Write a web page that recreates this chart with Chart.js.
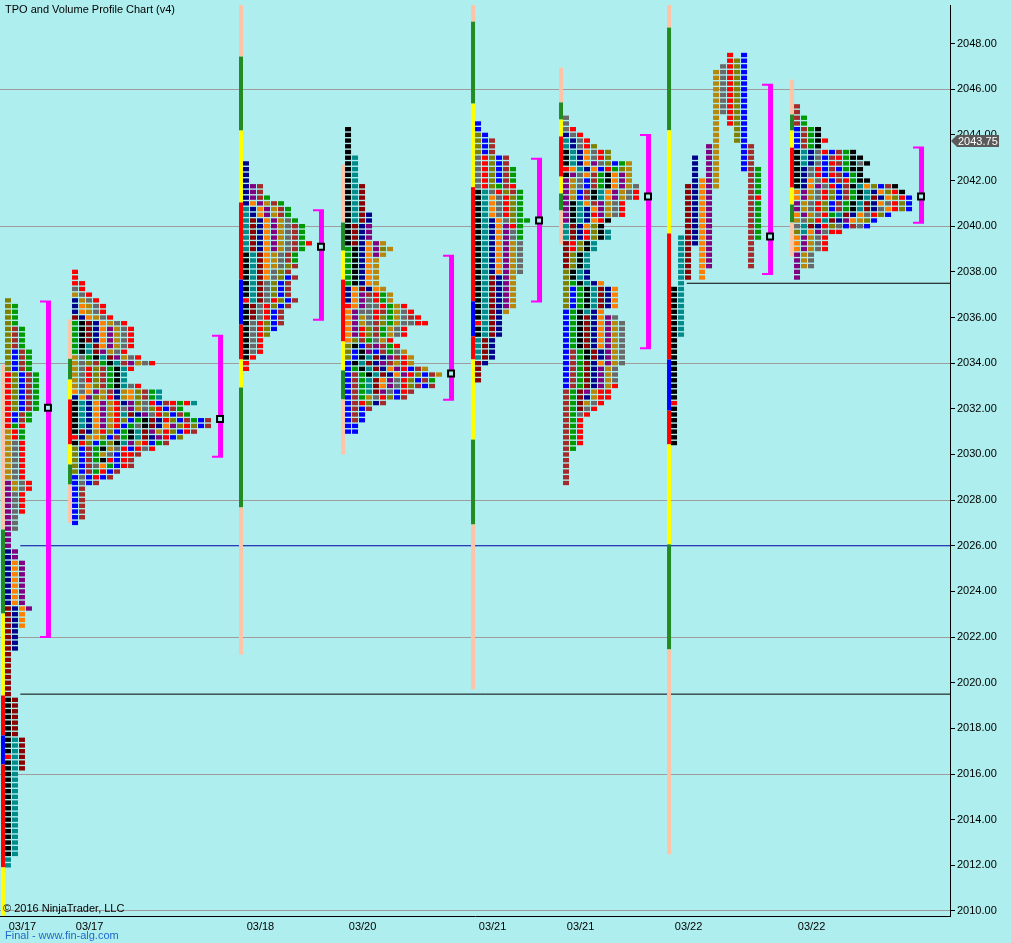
<!DOCTYPE html>
<html>
<head>
<meta charset="utf-8">
<title>TPO and Volume Profile Chart (v4)</title>
<script src="https://cdn.jsdelivr.net/npm/chart.js@4.4.1/dist/chart.umd.min.js"></script>
<style>
  html, body { margin: 0; padding: 0; background: #afeeee; }
  #wrap { position: relative; width: 1011px; height: 943px; overflow: hidden; }
  #chart { display: block; }
  .note { position: absolute; font: 11px 'Liberation Sans', Arial, sans-serif; white-space: nowrap; color: #000; }
</style>
</head>
<body>
<div id="wrap">
  <canvas id="chart" width="1011" height="943"></canvas>
  <div class="note" style="left:5px;top:3px">TPO and Volume Profile Chart (v4)</div>
  <div class="note" style="left:3px;top:902px">© 2016 NinjaTrader, LLC</div>
  <div class="note" style="left:5px;top:929px;color:#1f68c8">Final - www.fin-alg.com</div>
</div>
<script>
// price axis and time axis (x is counted in TPO columns)
const Y_MIN = 2009.78;
const Y_MAX = 2049.69;
const X_MAX = 135.71;
const TICK = 0.25;

const yTickValues = [2010, 2012, 2014, 2016, 2018, 2020, 2022, 2024, 2026, 2028, 2030,
  2032, 2034, 2036, 2038, 2040, 2042, 2044, 2046, 2048];
const gridLinePrices = [2010, 2016, 2022, 2028, 2034, 2040, 2046];
const dateLabels = ['03/17', '03/17', '03/18', '03/20', '03/21', '03/21', '03/22', '03/22'];
const sessionStart = [0.71, 10.29, 34.71, 49.29, 67.86, 80.43, 95.86, 113.43];
const profileTop = [2036.75, 2038.0, 2042.75, 2044.25, 2044.5, 2044.75, 2047.5, 2045.25];
const vaHigh = [2036.7, 2035.2, 2040.7, 2038.7, 2042.95, 2044.0, 2046.2, 2043.45];
const vaLow = [2022.0, 2029.9, 2035.9, 2032.4, 2036.7, 2034.65, 2037.9, 2040.15];
const pocPrice = [2032.05, 2031.55, 2039.1, 2033.55, 2040.25, 2041.3, 2039.55, 2041.3];
const refLinePrice = [2026.0, 2019.5, 2037.5];
const refLineFrom = [2.9, 2.9, 98.1];
const lastPrice = 2043.75;

// TPO rows, top price first; one letter per period, '.' = empty slot
const profile1 = ['L', 'LG', 'LG', 'LG', 'LG', 'LWG', 'LWG', 'LWG', 'LWG', 'LBWG', 'LBWG', 'LBWG', 'LBWG',
  'RLBWG', 'RLBWG', 'RLBWG', 'RLBWG', 'RLBWG', 'RLBWG', 'RLBWG', 'RBWG', 'RBWG', 'RGR', 'DRG', 'DRG',
  'DAR', 'DAR', 'DAR', 'DAR', 'DAR', 'DAR', 'DAR', 'PDAR', 'PDAR', 'PAR', 'PAR', 'PAR', 'PAR',
  'PA', 'PA', 'PA', 'P', 'P', 'P', 'NP', 'NP', 'NOP', 'NOP', 'NOP', 'NOP', 'NOP', 'NOP', 'NOP', 'NOP',
  'MNOP', 'MNO', 'MNO', 'MNO', 'MN', 'MN', 'MN', 'MN', 'M', 'M', 'M', 'M', 'M', 'M', 'M', 'M',
  'KM', 'KM', 'KM', 'KM', 'KM', 'KM', 'KM', 'KTM', 'KTM', 'KTM', 'RTM', 'KTM', 'KTM',
  'KT', 'KT', 'KT', 'KT', 'KT', 'KT', 'KT', 'KT', 'KT', 'KT', 'KT', 'KT', 'KT', 'KT', 'KT', 'T', 'T'];
const profile2 = ['R', 'R', 'RR', 'AR', 'DAR', 'NDAR', 'NODAR', 'NODAR', 'MNODAR', 'GKMNODAR',
  'GKMNOPDAR', 'GKMNOPDAR', 'GKMNOPDAR', 'GKTMOPDAR', 'GKTMPDAR', 'DAGKTMPDAR', 'DALWGKTWPDAR',
  'DARLWGKTR', 'DARLWGKT', 'DARLWGKT', 'DAOLWGKTAR', 'OAOPDWNDOLWGT', 'NOPLDRNDOLWGT',
  'KTNOPDRNPLARBWRGRT', 'KTNOPDRAPDALRBWG', 'KTNOPDRTMNPARLBWG', 'KTNOPDRLBGKMNRLBWGBW',
  'KTNOPDRBGAKMNOPLRLBW', 'KMNDRLBGKTMPDRLBRW', 'RNDOLBWGKTMNPRBL', 'KRLBGLKTPDRBGW',
  'LBWGKDARBRAR', 'LBWGDABRRW', 'LBWGKRBRW', 'LBWAOGBRW', 'LBWGRBW', 'BABRBW', 'BABW',
  'BW', 'BW', 'BW', 'BW', 'BW', 'BW', 'B'];
const profile3 = ['N', 'N', 'N', 'N', 'NPW', 'NPW', 'NPWG', 'NOPDWG', 'TNOPDWG', 'TNOPDWG', 'TMNOPDAG',
  'TMNOPDAWG', 'TMNOPDAWG', 'TMNOPDAWG', 'TMNOPDAWGR', 'TMNOPDAWG', 'KTMODAWG', 'KTMODAWG',
  'KTMODALW', 'KTMOALW', 'KTMOALBW', 'KTMALBW', 'KTMALBW', 'KTMALBW', 'RTMARLBW', 'KMARLBW',
  'KMARBW', 'KMARBW', 'KARLBW', 'KARLB', 'KARL', 'KAR', 'KAR', 'KAR', 'KR', 'R', 'R'];
const profile4 = ['K', 'K', 'K', 'K', 'K', 'KT', 'KT', 'KT', 'KT', 'KT', 'KTM', 'KTM', 'KTM', 'KTM', 'KTM',
  'KTMN', 'KTMN', 'KMNP', 'KMNP', 'KMNP', 'KMNOPD', 'GKNOPLD', 'GKNOPD', 'GKNOD', 'GKNOD', 'GKNOD',
  'GKNOD', 'GKNOD', 'NOMNOD', 'NOPWRGD', 'NOPARGD', 'ROPAARGDR', 'OPAARWGDAR', 'OPDARLGDAWR',
  'OPDAWLGDAARR', 'OPRLWGDAR', 'OPRLWGDAR', 'OLWGADR', 'LKBWPWGR', 'LBKPBWGAD', 'LBKTMNPWRD',
  'BKTMNPWDRD', 'BGKTMNOPRBWD', 'BWGKTMNOPRLBWD', 'BWGTMOPARLBWG', 'BWGTMOPARLWBW', 'BWGTMPABRW',
  'BWGDARLBW', 'BWRLNW', 'BWBW', 'BWB', 'BWB', 'BB', 'BB'];
const profile5 = ['B', 'B', 'LB', 'LBW', 'LBW', 'LBW', 'ARLBW', 'ARLBW', 'ARLBWG', 'ARLBWG', 'ARLBWG',
  'ARLGWR', 'KTARLWG', 'KTOARLG', 'KTOARLG', 'KTOARLG', 'KTOARLG', 'KTNOALGG', 'KTNOPRG', 'KTNOPAG',
  'KTNOPAG', 'KTNOPDA', 'KTNOPDA', 'KTNOPDA', 'KTNOPDA', 'KTNOPDA', 'KTNOPDA', 'KTMNPD', 'KTMNPD',
  'KTMNPD', 'KTMNPD', 'KTMNPD', 'KTMNPD', 'KTMND', 'KTMN', 'RTMN', 'KTMN', 'KTMN', 'TMN', 'TMN',
  'TMN', 'TMN', 'MN', 'M', 'M', 'M'];
const profile6 = ['A', 'A', 'AR', 'NAR', 'TNAR', 'TNARL', 'KTNOARL', 'KTNOARL', 'KTNOPALBGD',
  'ROTNOBRGLD', 'KPAOWGKOPD', 'PDABWGKOPD', 'PDABWGKOPDA', 'PDBWKTOPDAR', 'PDBWKTOPDAR',
  'PKTOWPDAR', 'PKTNOPDAR', 'PKTNRPDAR', 'PKTNORK', 'TMNOLK', 'TMNRLKT', 'TMNRLKT', 'MRLKT', 'MRLKT',
  'MLKT', 'MLKT', 'MLKT', 'LKTN', 'LKTN', 'LGKTNO', 'LBGKTMNO', 'LBGKTMNO', 'LBGKTMNO', 'LBGKTMNO',
  'BGKTNO', 'BGKMNOPA', 'BGKMNOPDA', 'BGKMNOPDA', 'BGKMNOPDA', 'BGKMNOPDA', 'BGKMNOPDA',
  'BWGKMNPDA', 'BWGKMNPDA', 'BWGMNOPDA', 'BWGMNPDA', 'BWGMNPDA', 'BWGMNPDA', 'BWGMNPDR', 'WGMPDRR',
  'WGMNDRR', 'WGMDAR', 'WGMAR', 'WGAR', 'WGR', 'WGR', 'WGR', 'WGR', 'WGR', 'WG',
  'W', 'W', 'W', 'W', 'W', 'W'];
const profile7 = ['........R.B', '........RLB', '.......ARLB', '......DARLB', '......DARLB', '......DARLB',
  '......DARLB', '......DARLB', '......DARLB', '......DARLB', '......DARLB', '......D.RLB', '......D.RLB',
  '......D..LB', '......D..LB', '......D..LB', '.....PD...BW', '.....PD...BW', '...N.PD...BW',
  '...N.PD...BW', '...N.PD...BWG', '...N.PD....WG', '...NOPD....WG', '..MNOPD....WG', '..MNOP.....WG',
  '..MNOP.....WR', '..MNOP.....WG', '..MNOP.....WG', '..MNOP.....WG', '..MNOP.....WG', '..MNOP.....WG',
  '..MNOP.....WG', '.TMNOP.....WG', '.TMNOP.....W', '.TM.OP.....W', '.TM.OP.....W', '.TM.OP.....W',
  '.TM.OP.....W', '.TM.O', '.TM.O', '.T', 'KT', 'KT', 'KT', 'KT', 'KT', 'KT', 'KT', 'KT', 'KT',
  'K', 'K', 'K', 'K', 'K', 'K', 'K', 'K', 'K', 'K', 'K', 'R', 'K', 'K', 'K', 'K', 'K', 'K', 'K'];
const profile8 = ['W', 'W', 'WG', 'WG', 'BWGK', 'BWGK', 'BWGKR', 'BWGK', 'KTNARBWGK', 'KTNABWRGKK',
  'KTNABRWGKAK', 'KNARBWBGKK', 'KNARBRWBGK', 'KNOARBWRGKK', 'KNOPARBWKTOLBWK', 'OPDARLBWGKTNOLRK',
  'OPDARLBWGKTMNOLRB', 'PDARLBWGKTMNOARLB', 'PDARLBWGKTMNAORLB', 'OPDARGTMNOARLB', 'DALRTMNPODLB',
  'ATMNRLABWAB', 'LTOPARR', 'OPDAR', 'OPDAR', 'OPDAR', 'PDA', 'PDA', 'PDA', 'P', 'P'];

// session strip segments: [kind, high, low]
const bar1 = [['S', 2033.94, 2026.71], ['F', 2026.71, 2023.03], ['Y', 2023.03, 2019.44], ['R', 2019.44, 2017.69],
  ['B', 2017.69, 2016.42], ['R', 2016.42, 2011.91], ['Y', 2011.91, 2009.8]];
const bar2 = [['S', 2035.91, 2034.19], ['F', 2034.19, 2033.28], ['Y', 2033.28, 2032.41], ['R', 2032.41, 2030.44],
  ['Y', 2030.44, 2029.56], ['F', 2029.56, 2028.68], ['S', 2028.68, 2027.0]];
const bar3 = [['S', 2049.7, 2047.43], ['F', 2047.43, 2044.19], ['Y', 2044.19, 2041.04], ['R', 2041.04, 2037.66],
  ['B', 2037.66, 2035.69], ['R', 2035.69, 2034.16], ['Y', 2034.16, 2032.93], ['F', 2032.93, 2027.68],
  ['S', 2027.68, 2021.24]];
const bar4 = [['S', 2042.7, 2040.16], ['F', 2040.16, 2038.93], ['Y', 2038.93, 2037.66], ['R', 2037.66, 2034.95],
  ['Y', 2034.95, 2033.68], ['F', 2033.68, 2032.41], ['S', 2032.41, 2030.0]];
const bar5 = [['S', 2049.7, 2048.96], ['F', 2048.96, 2045.37], ['Y', 2045.37, 2041.71], ['R', 2041.71, 2036.71],
  ['B', 2036.71, 2035.18], ['R', 2035.18, 2034.16], ['Y', 2034.16, 2030.65], ['F', 2030.65, 2026.93],
  ['S', 2026.93, 2019.7]];
const bar6 = [['S', 2046.95, 2045.42], ['F', 2045.42, 2044.67], ['Y', 2044.67, 2043.93], ['R', 2043.93, 2042.17],
  ['Y', 2042.17, 2041.43], ['F', 2041.43, 2040.69], ['S', 2040.69, 2039.2]];
const bar7 = [['S', 2049.7, 2048.7], ['F', 2048.7, 2044.2], ['Y', 2044.2, 2039.68], ['R', 2039.68, 2034.16],
  ['B', 2034.16, 2031.92], ['R', 2031.92, 2030.44], ['Y', 2030.44, 2026.06], ['F', 2026.06, 2021.46],
  ['S', 2021.46, 2012.48]];
const bar8 = [['S', 2046.42, 2044.89], ['F', 2044.89, 2044.19], ['Y', 2044.19, 2043.44], ['R', 2043.44, 2041.69],
  ['Y', 2041.69, 2040.95], ['F', 2040.95, 2040.16], ['S', 2040.16, 2038.67]];

const TPO_COLORS = {
  R: '#ff0000', G: '#009a00', B: '#0000ff', K: '#000000', A: '#696969', O: '#ff8000', T: '#008b8b',
  P: '#800080', M: '#8b0000', N: '#00008b', D: '#b8860b', L: '#808000', W: '#a52a2a',
};
const STRIP_COLORS = { S: '#ffc4a8', F: '#228b22', Y: '#ffff00', R: '#ff0000', B: '#0000ff' };
const FONT = "'Liberation Sans', Arial, sans-serif";
const CELL_OFFSET = 3 / 7;
const CELL_HALF_H = 0.095;

const profiles = [profile1, profile2, profile3, profile4, profile5, profile6, profile7, profile8];
const sessionBars = [bar1, bar2, bar3, bar4, bar5, bar6, bar7, bar8];

function buildCells() {
  const data = [];
  const colors = [];
  profiles.forEach((rows, p) => {
    rows.forEach((row, k) => {
      const price = profileTop[p] - k * TICK;
      [...row].forEach((code, j) => {
        if (code === '.') return;
        data.push({ x: sessionStart[p] + j + CELL_OFFSET, y: [price - CELL_HALF_H, price + CELL_HALF_H] });
        colors.push(TPO_COLORS[code]);
      });
    });
  });
  return { data, colors };
}

function buildStrips() {
  const data = [];
  const colors = [];
  sessionBars.forEach((segs, p) => {
    segs.forEach(([kind, hi, lo]) => {
      data.push({ x: sessionStart[p] - 2 / 7, y: [lo, hi] });
      colors.push(STRIP_COLORS[kind]);
    });
  });
  return { data, colors };
}

function bracketX(p) {
  const width = Math.max(...profiles[p].map((r) => r.length));
  return sessionStart[p] + width;
}

const cells = buildCells();
const strips = buildStrips();

const bracketArms = profiles.map((_, p) => {
  const x0 = bracketX(p);
  const x1 = x0 + 10 / 7;
  return {
    type: 'line',
    data: [{ x: x0, y: vaHigh[p] }, { x: x1, y: vaHigh[p] }, { x: x1, y: vaLow[p] }, { x: x0, y: vaLow[p] }],
    borderColor: '#ff00ff',
    borderWidth: 2,
    pointRadius: 0,
    borderJoinStyle: 'miter',
  };
});

const refLines = refLinePrice.map((price, i) => ({
  type: 'line',
  data: [{ x: refLineFrom[i], y: price }, { x: X_MAX, y: price }],
  borderColor: i === 0 ? '#0000a0' : '#000000',
  borderWidth: 1,
  pointRadius: 0,
}));

const lastPriceTag = {
  id: 'lastPriceTag',
  afterDraw(chart) {
    const { ctx, chartArea } = chart;
    const py = Math.round(chart.scales.y.getPixelForValue(lastPrice));
    const x0 = chartArea.right + 1;
    ctx.save();
    ctx.fillStyle = '#5a5a5a';
    ctx.beginPath();
    ctx.moveTo(x0, py);
    ctx.lineTo(x0 + 6, py - 6);
    ctx.lineTo(x0 + 48, py - 6);
    ctx.lineTo(x0 + 48, py + 6);
    ctx.lineTo(x0 + 6, py + 6);
    ctx.closePath();
    ctx.fill();
    ctx.fillStyle = '#ffffff';
    ctx.font = `11px ${FONT}`;
    ctx.textBaseline = 'middle';
    ctx.fillText(lastPrice.toFixed(2), x0 + 7, py + 1);
    ctx.restore();
  },
};

new Chart(document.getElementById('chart'), {
  type: 'bar',
  data: {
    datasets: [
      {
        type: 'line',
        data: pocPrice.map((y, p) => ({ x: bracketX(p) + 8 / 7, y })),
        showLine: false,
        pointStyle: 'rect',
        pointRadius: 4.2,
        pointBorderWidth: 2,
        pointBorderColor: '#000000',
        pointBackgroundColor: '#afeeee',
      },
      {
        type: 'bar',
        data: profiles.map((_, p) => ({ x: bracketX(p) + 8 / 7, y: [vaLow[p], vaHigh[p]] })),
        backgroundColor: '#ff00ff',
        barThickness: 4,
        grouped: false,
        inflateAmount: 0,
        borderWidth: 0,
      },
      ...bracketArms,
      {
        type: 'bar',
        data: cells.data,
        backgroundColor: cells.colors,
        barThickness: 6,
        grouped: false,
        inflateAmount: 0,
        borderWidth: 0,
      },
      {
        type: 'bar',
        data: strips.data,
        backgroundColor: strips.colors,
        barThickness: 4,
        grouped: false,
        inflateAmount: 0,
        borderWidth: 0,
      },
      ...refLines,
    ],
  },
  options: {
    responsive: false,
    maintainAspectRatio: false,
    animation: false,
    events: [],
    devicePixelRatio: 1,
    layout: { autoPadding: false, padding: { top: 5, left: 0, right: 0, bottom: 0 } },
    plugins: { legend: { display: false }, tooltip: { enabled: false } },
    scales: {
      x: {
        type: 'linear',
        min: 0,
        max: X_MAX,
        offset: false,
        grid: { display: false, drawTicks: false, offset: false },
        border: { display: true, color: '#000000', width: 1 },
        ticks: {
          autoSkip: false,
          maxRotation: 0,
          minRotation: 0,
          padding: 4,
          color: '#000000',
          font: { family: FONT, size: 11 },
          callback(_value, index) {
            return dateLabels[index];
          },
        },
        afterBuildTicks(scale) {
          scale.ticks = sessionStart.map((s) => ({ value: s + 2.5 }));
        },
        afterFit(scale) {
          scale.height = 27;
          scale.paddingLeft = 0;
          scale.paddingRight = 0;
        },
      },
      y: {
        type: 'linear',
        position: 'right',
        min: Y_MIN,
        max: Y_MAX,
        beginAtZero: false,
        grid: {
          drawOnChartArea: true,
          tickLength: 5,
          tickColor: '#000000',
          color(ctx) {
            return ctx.tick && gridLinePrices.includes(ctx.tick.value) ? '#a09c9c' : 'rgba(0,0,0,0)';
          },
        },
        border: { display: true, color: '#000000', width: 1 },
        ticks: {
          padding: 2,
          color: '#000000',
          font: { family: FONT, size: 11 },
          callback(value) {
            return Number(value).toFixed(2);
          },
        },
        afterBuildTicks(scale) {
          scale.ticks = yTickValues.map((v) => ({ value: v }));
        },
        afterFit(scale) {
          scale.width = 61;
          scale.paddingTop = 0;
          scale.paddingBottom = 0;
        },
      },
    },
  },
  plugins: [lastPriceTag],
});
</script>
</body>
</html>
